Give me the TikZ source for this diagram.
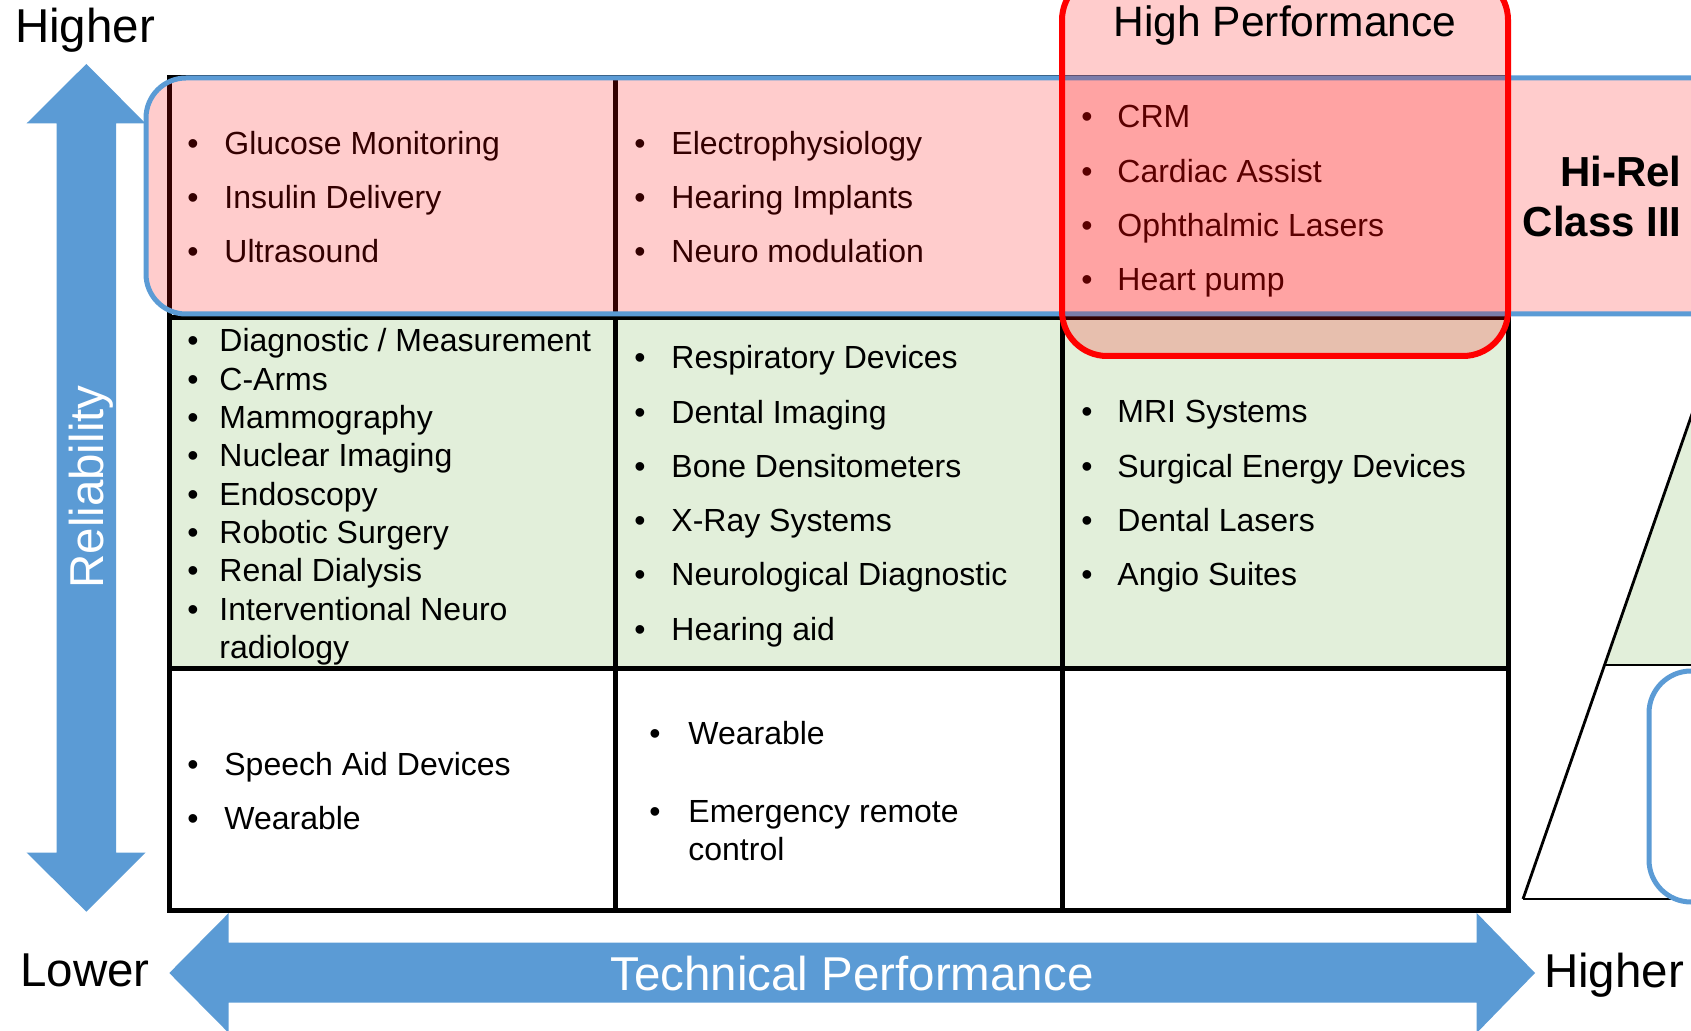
\documentclass[tikz,border=0pt]{standalone}
\usepackage{fontspec}
\setmainfont{Liberation Sans}
\definecolor{axisblue}{HTML}{5B9BD5}
\definecolor{midgreen}{HTML}{E2EFDA}
% one bulleted column: name, bullet x, text x, first baseline, line step, items
\newcommand\itemcolumn[6]{%
  \foreach \t [count=\i from 0] in {#6} {%
    \node[bul] (#1b\i) at (#2,#4+#5*\i) {\textbullet};
    \node[itm] (#1t\i) at (#3,#4+#5*\i) {\t};
  }}
\begin{document}
\begin{tikzpicture}[x=0.5pt,y=-0.5pt,
  gridline/.style={line width=2.5pt, draw=black},
  bul/.style={anchor=base, inner sep=0pt, font=\fontsize{16}{19}\selectfont},
  itm/.style={anchor=base west, inner sep=0pt, font=\fontsize{16}{19}\selectfont},
  axislbl/.style={anchor=base, inner sep=0pt, font=\fontsize{23.75}{28}\selectfont},
  axisarrow/.style={fill=axisblue, draw=none},
  tint/.style={fill=red, fill opacity=0.2},
  pyr/.style={line width=1.4pt, draw=black},
]
\useasboundingbox (0,0) rectangle (1691,1031);
\begin{scope}
\clip (0,0) rectangle (1691,1031);

% middle row background
\fill[midgreen] (169,318) rectangle (1508,668);

% pyramid at the right edge
\fill[midgreen] (1604.7,665) -- (1697,400) -- (1740,400) -- (1740,665) -- cycle;
\draw[pyr] (1523,899) -- (1700,391);
\draw[pyr] (1523,899) -- (1740,899);
\draw[pyr] (1604.7,665) -- (1740,665);
\draw[line width=2.5pt, draw=axisblue, fill=white, rounded corners=21pt] (1649,671) rectangle (1780,902);

% grid
\draw[gridline] (169,78) rectangle (1508,910);
\draw[gridline] (615,78) -- (615,910);
\draw[gridline] (1062,78) -- (1062,910);
\draw[gridline] (169,318) -- (1508,318);
\draw[gridline] (169,668) -- (1508,668);

% top row
\itemcolumn{ra}{193}{224}{155}{54}{Glucose Monitoring, Insulin Delivery, Ultrasound}
\itemcolumn{rb}{640}{671}{155}{54}{Electrophysiology, Hearing Implants, Neuro modulation}
\itemcolumn{rc}{1087}{1117}{128}{54.3}{CRM, Cardiac Assist, Ophthalmic Lasers, Heart pump}

% middle row
\itemcolumn{ma}{193}{219}{352}{38.3}{{Diagnostic / Measurement}, C-Arms, Mammography, Nuclear Imaging, Endoscopy, Robotic Surgery, Renal Dialysis, Interventional Neuro}
\node[itm] (ma8) at (219,658) {radiology};
\itemcolumn{mb}{640}{671}{369}{54.2}{Respiratory Devices, Dental Imaging, Bone Densitometers, X-Ray Systems, Neurological Diagnostic, Hearing aid}
\itemcolumn{mc}{1087}{1117}{423}{54.2}{MRI Systems, Surgical Energy Devices, Dental Lasers, Angio Suites}

% bottom row
\itemcolumn{la}{193}{224}{775}{54}{Speech Aid Devices, Wearable}
\itemcolumn{lb}{655}{688}{744}{78}{Wearable, Emergency remote}
\node[itm] (lb2) at (688,860) {control};

% Hi-Rel band and High Performance block
\path[tint, draw=axisblue, line width=2.5pt, rounded corners=20pt] (146,78) rectangle (1740,314);
\path[tint, draw=red, line width=3pt, rounded corners=22.5pt] (1062,-25) rectangle (1508,356);
\node[anchor=base, inner sep=0pt, font=\fontsize{21.25}{25}\selectfont] (hp) at (1285,37) {High Performance};
\node[anchor=base east, inner sep=0pt, font=\fontsize{21}{25}\selectfont\bfseries] (hirel) at (1682,187) {Hi-Rel};
\node[anchor=base east, inner sep=0pt, font=\fontsize{21}{25}\selectfont\bfseries] (class) at (1682,237) {Class III};

% reliability axis
\path[axisarrow] (86.3,64) -- (145.5,123.3) -- (116,123.3) -- (116,852.7) -- (145.5,852.7)
  -- (86.3,911.7) -- (26.7,852.7) -- (56.7,852.7) -- (56.7,123.3) -- (26.7,123.3) -- cycle;
\node[axislbl, rotate=90, text=white] (rel) at (103,487) {Reliability};

% technical performance axis
\path[axisarrow] (169.3,973) -- (228.7,913) -- (228.7,942.7) -- (1476.7,942.7) -- (1476.7,913)
  -- (1535,973) -- (1476.7,1033) -- (1476.7,1002.7) -- (228.7,1002.7) -- (228.7,1033) -- cycle;
\node[axislbl, text=white] (tp) at (852,990) {Technical Performance};

\node[axislbl] (hiy) at (85,43) {Higher};
\node[axislbl] (lox) at (85,986) {Lower};
\node[axislbl] (hix) at (1614,987) {Higher};
\end{scope}
\end{tikzpicture}
\end{document}
